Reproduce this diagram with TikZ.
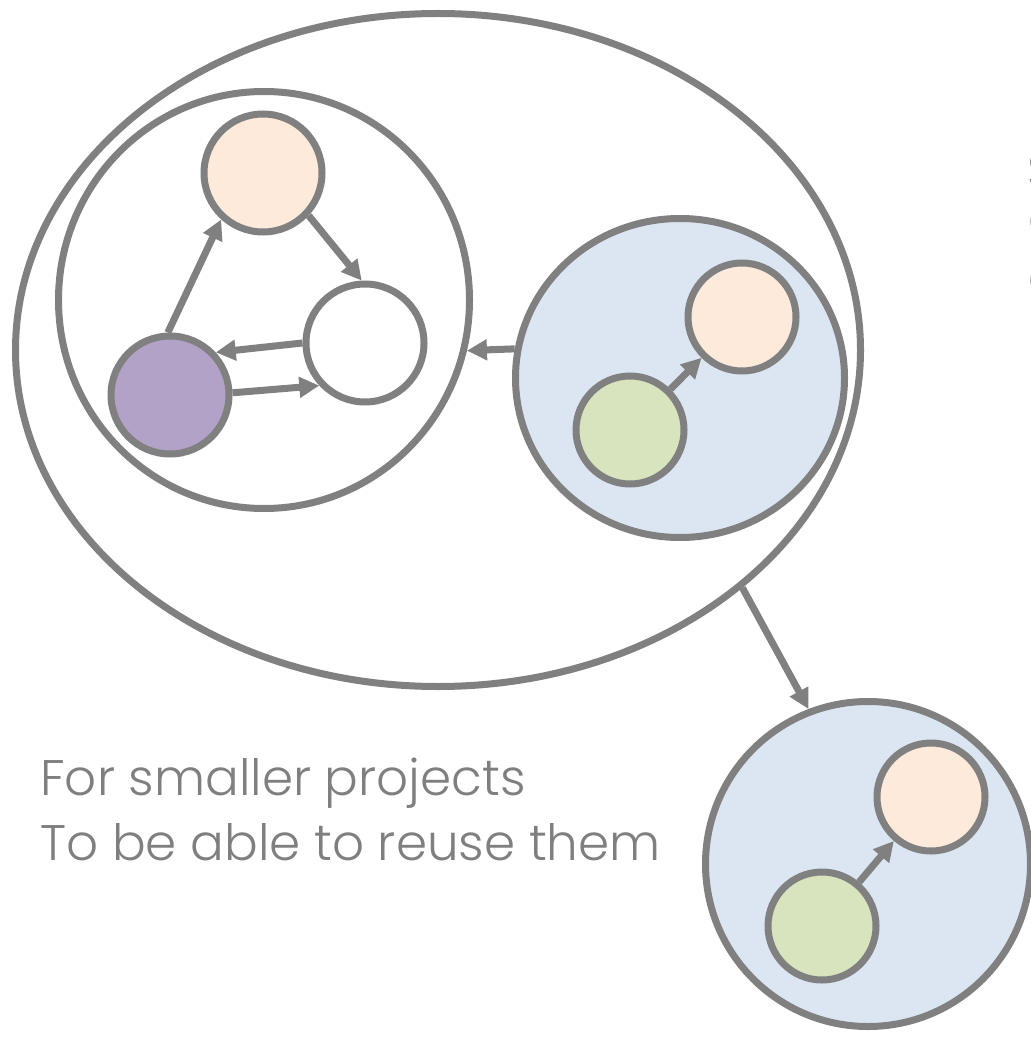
\documentclass[tikz,border=0pt]{standalone}
\usepackage{fontspec}
\setmainfont{Poppins Light}
\usetikzlibrary{shapes.geometric, arrows.meta}
\definecolor{linegray}{RGB}{128,128,128}
\definecolor{peach}{RGB}{253,234,218}
\definecolor{lavender}{RGB}{178,162,199}
\definecolor{sage}{RGB}{215,228,189}
\definecolor{pale}{RGB}{220,230,242}
\definecolor{textgray}{RGB}{127,127,127}
\begin{document}
\begin{tikzpicture}[x=0.75pt,y=-0.75pt,
  ln/.style={draw=linegray, line width=5.25pt},
  ball/.style={ln, circle, inner sep=0pt, minimum size=#1},
  oval/.style n args={2}{ln, ellipse, inner sep=0pt, minimum width=#1, minimum height=#2},
  arr/.style={draw=linegray, line width=5.25pt, -{Triangle[length=15pt,width=15pt]}},
  lbl/.style={text=textgray, font=\fontsize{37.5}{45}\selectfont, inner sep=0pt, anchor=base west}]
\useasboundingbox[fill=white] (0,0) rectangle (1030,1037);

% outer ellipse
\node[oval={633.75pt}{504.75pt}] (outer) at (438,350) {};
% inner white circle with triangle graph
\node[oval={308.25pt}{312.75pt}, fill=white] (inner) at (264,300) {};
\node[ball=88.5pt, fill=peach] (pa) at (263,173) {};
\node[ball=88.5pt, fill=white] (wa) at (365,343) {};
\node[ball=88.5pt, fill=lavender] (va) at (170,395) {};
\draw[arr] (va.92) -- (pa.228);
\draw[arr] (pa.-43) -- (wa.93);
\draw[arr] (wa.180) -- (va.43);
\draw[arr] (va.2) -- (wa.223);

% blue module inside
\node[oval={246.75pt}{239.25pt}, fill=pale] (blue) at (680,378) {};
\node[ball=81pt, fill=peach] (pb) at (742,317) {};
\node[ball=81pt, fill=sage] (gb) at (630,430) {};
\draw[arr] (gb) -- (pb);
\draw[arr] (blue.170) -- (inner.346);

% extracted module
\node[ball=243.75pt, fill=pale] (bot) at (868,864) {};
\node[ball=81pt, fill=peach] (pc) at (931,797) {};
\node[ball=81pt, fill=sage] (gc) at (822,926) {};
\draw[arr] (gc) -- (pc);
\draw[arr] (outer.-38.7) -- (bot.111.5);

% labels
\node[lbl] (t1) at (40,795) {For smaller projects};
\node[lbl] (t2) at (40,860) {To be able to reuse them};

% text cut off at the right edge
\begin{scope}
\clip (0,0) rectangle (1030,1037);
\node[lbl] (r1) at (1027.5,189) {S};
\node[lbl] (r2) at (1028,236) {c};
\node[lbl] (r3) at (1028,295) {c};
\end{scope}
\end{tikzpicture}
\end{document}
